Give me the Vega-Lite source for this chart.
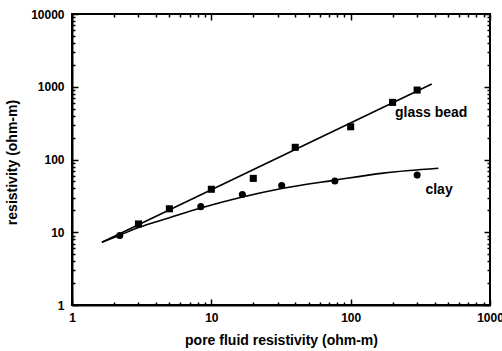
{
  "$schema": "https://vega.github.io/schema/vega-lite/v6.json",
  "width": 418,
  "height": 291,
  "autosize": "none",
  "padding": {"left": 72, "top": 14, "right": 12, "bottom": 46},
  "background": "white",
  "config": {
    "font": "Liberation Sans",
    "view": {"stroke": "black", "strokeWidth": 2},
    "axis": {
      "domainColor": "black",
      "domainWidth": 2,
      "tickColor": "black",
      "tickWidth": 1.5,
      "grid": false,
      "labelFont": "Liberation Sans",
      "labelFontWeight": "bold",
      "labelFontSize": 12,
      "labelColor": "black",
      "labelFlush": false,
      "labelOverlap": false,
      "labelBound": false,
      "titleFont": "Liberation Sans",
      "titleFontWeight": "bold",
      "titleFontSize": 14,
      "titleColor": "black"
    }
  },
  "datasets": {
    "fit": [
      {"material": "glass bead", "x": 1.64, "y": 7.3},
      {"material": "glass bead", "x": 382, "y": 1091},
      {"material": "clay", "x": 1.64, "y": 7.3},
      {"material": "clay", "x": 2.2, "y": 9.1},
      {"material": "clay", "x": 3, "y": 11.6},
      {"material": "clay", "x": 5, "y": 15.8},
      {"material": "clay", "x": 8.4, "y": 21.5},
      {"material": "clay", "x": 16.7, "y": 30.5},
      {"material": "clay", "x": 32, "y": 40},
      {"material": "clay", "x": 77, "y": 52},
      {"material": "clay", "x": 172, "y": 65},
      {"material": "clay", "x": 426, "y": 75.7}
    ],
    "points": [
      {"material": "glass bead", "x": 3, "y": 13},
      {"material": "glass bead", "x": 5, "y": 21},
      {"material": "glass bead", "x": 10, "y": 39},
      {"material": "glass bead", "x": 20, "y": 55},
      {"material": "glass bead", "x": 40, "y": 147},
      {"material": "glass bead", "x": 100, "y": 282},
      {"material": "glass bead", "x": 200, "y": 610},
      {"material": "glass bead", "x": 300, "y": 900},
      {"material": "clay", "x": 2.2, "y": 9},
      {"material": "clay", "x": 8.4, "y": 22.5},
      {"material": "clay", "x": 16.7, "y": 33},
      {"material": "clay", "x": 32, "y": 44},
      {"material": "clay", "x": 77, "y": 50.5},
      {"material": "clay", "x": 300, "y": 61}
    ],
    "labels": [
      {"text": "glass bead", "x": 378, "y": 436},
      {"text": "clay", "x": 431, "y": 38}
    ]
  },
  "layer": [
    {
      "data": {"name": "fit"},
      "mark": {"type": "line", "color": "black", "strokeWidth": 1.6, "interpolate": "monotone"},
      "encoding": {
        "x": {
          "field": "x", "type": "quantitative",
          "scale": {"type": "log", "domain": [1, 1000], "nice": false},
          "axis": {
            "orient": "bottom",
            "title": "pore fluid resistivity (ohm-m)",
            "titleBaseline": "middle",
            "titleY": 35,
            "format": "d",
            "values": [1, 10, 100, 1000],
            "ticks": false,
            "tickSize": 0,
            "labelPadding": 7
          }
        },
        "y": {
          "field": "y", "type": "quantitative",
          "scale": {"type": "log", "domain": [1, 10000], "nice": false},
          "axis": {
            "orient": "left",
            "title": "resistivity (ohm-m)",
            "titleBaseline": "middle",
            "titleX": -60,
            "titleY": 148,
            "format": "d",
            "values": [1, 10, 100, 1000, 10000],
            "ticks": false,
            "tickSize": 0,
            "labelPadding": 8
          }
        },
        "detail": {"field": "material", "type": "nominal"}
      }
    },
    {
      "data": {"name": "points"},
      "mark": {"type": "point", "filled": true, "opacity": 1, "color": "black", "size": 50},
      "encoding": {
        "x": {
          "field": "x", "type": "quantitative",
          "axis": {"orient": "bottom", "title": null, "labels": false, "domain": false, "offset": -3, "tickSize": 3,
            "values": [2,3,4,5,6,7,8,9,20,30,40,50,60,70,80,90,200,300,400,500,600,700,800,900]}
        },
        "y": {
          "field": "y", "type": "quantitative",
          "axis": {"orient": "left", "title": null, "labels": false, "domain": false, "offset": -3, "tickSize": 3,
            "values": [2,3,4,5,6,7,8,9,20,30,40,50,60,70,80,90,200,300,400,500,600,700,800,900,2000,3000,4000,5000,6000,7000,8000,9000]}
        },
        "shape": {"field": "material", "type": "nominal", "scale": {"domain": ["glass bead", "clay"], "range": ["square", "circle"]}, "legend": null}
      }
    },
    {
      "data": {"name": "labels"},
      "mark": {"type": "text", "font": "Liberation Sans", "fontWeight": "bold", "fontSize": 14, "color": "black", "align": "center", "baseline": "middle"},
      "encoding": {
        "x": {
          "field": "x", "type": "quantitative",
          "axis": {"orient": "bottom", "title": null, "labels": false, "domain": false, "offset": -6, "tickSize": 6,
            "values": [1, 10, 100, 1000]}
        },
        "y": {
          "field": "y", "type": "quantitative",
          "axis": {"orient": "left", "title": null, "labels": false, "domain": false, "offset": -6, "tickSize": 6,
            "values": [1, 10, 100, 1000, 10000]}
        },
        "text": {"field": "text"}
      }
    },
    {
      "data": {"name": "points"},
      "mark": {"type": "point", "opacity": 0},
      "encoding": {
        "x": {
          "field": "x", "type": "quantitative",
          "axis": {"orient": "top", "title": null, "labels": false, "domain": false, "offset": -3, "tickSize": 3,
            "values": [2,3,4,5,6,7,8,9,20,30,40,50,60,70,80,90,200,300,400,500,600,700,800,900]}
        },
        "y": {
          "field": "y", "type": "quantitative",
          "axis": {"orient": "right", "title": null, "labels": false, "domain": false, "offset": -3, "tickSize": 3,
            "values": [2,3,4,5,6,7,8,9,20,30,40,50,60,70,80,90,200,300,400,500,600,700,800,900,2000,3000,4000,5000,6000,7000,8000,9000]}
        }
      }
    },
    {
      "data": {"name": "labels"},
      "mark": {"type": "point", "opacity": 0},
      "encoding": {
        "x": {
          "field": "x", "type": "quantitative",
          "axis": {"orient": "top", "title": null, "labels": false, "domain": false, "offset": -6, "tickSize": 6,
            "values": [1, 10, 100, 1000]}
        },
        "y": {
          "field": "y", "type": "quantitative",
          "axis": {"orient": "right", "title": null, "labels": false, "domain": false, "offset": -6, "tickSize": 6,
            "values": [1, 10, 100, 1000, 10000]}
        }
      }
    }
  ],
  "resolve": {"axis": {"x": "independent", "y": "independent"}}
}
